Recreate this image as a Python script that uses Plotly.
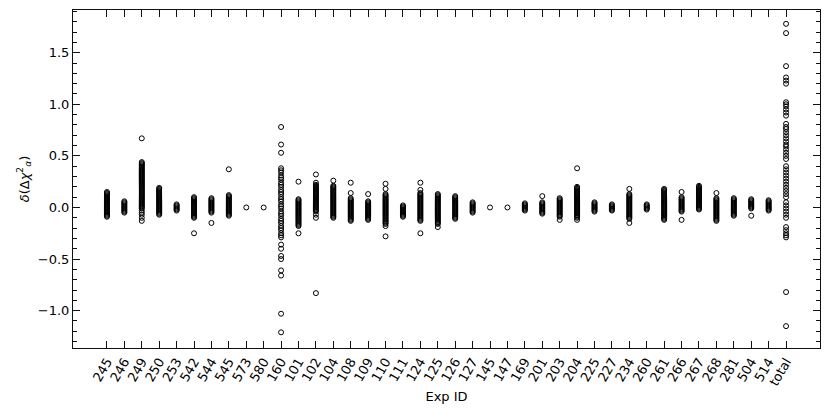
import plotly.graph_objects as go

categories = ["245", "246", "249", "250", "253", "542", "544", "545", "573", "580",
              "160", "101", "102", "104", "108", "109", "110", "111", "124", "125",
              "126", "127", "145", "147", "169", "201", "203", "204", "225", "227",
              "234", "260", "261", "266", "267", "268", "281", "504", "514", "total"]

v245 = [0.15, 0.14, 0.13, 0.12, 0.11, 0.10, 0.09, 0.08, 0.07, 0.06, 0.05, 0.04, 0.03, 0.02, 0.01, 0.00,
        -0.01, -0.02, -0.03, -0.04, -0.05, -0.06, -0.07, -0.08, -0.09]
v246 = [0.06, 0.05, 0.04, 0.03, 0.02, 0.01, 0.00, -0.01, -0.02, -0.03, -0.04, -0.05]
v249 = [0.67, 0.44, 0.43, 0.42, 0.41, 0.40, 0.39, 0.38, 0.37, 0.36, 0.35, 0.34, 0.33, 0.32, 0.31, 0.30,
        0.29, 0.28, 0.27, 0.26, 0.25, 0.24, 0.23, 0.22, 0.21, 0.20, 0.19, 0.18, 0.17, 0.16, 0.15, 0.14,
        0.13, 0.12, 0.11, 0.10, 0.09, 0.08, 0.07, 0.06, 0.05, 0.04, 0.03, 0.02, 0.01, 0.00, -0.01, -0.03,
        -0.05, -0.07, -0.10, -0.13]
v250 = [0.19, 0.18, 0.17, 0.16, 0.15, 0.14, 0.13, 0.12, 0.11, 0.10, 0.09, 0.08, 0.07, 0.06, 0.05, 0.04,
        0.03, 0.02, 0.01, 0.00, -0.01, -0.02, -0.03, -0.04, -0.05, -0.06, -0.07]
v253 = [0.03, 0.02, 0.01, 0.00, -0.01, -0.02, -0.03]
v542 = [0.10, 0.09, 0.08, 0.07, 0.06, 0.05, 0.04, 0.03, 0.02, 0.01, 0.00, -0.01, -0.02, -0.03, -0.04,
        -0.05, -0.06, -0.07, -0.08, -0.09, -0.10, -0.25]
v544 = [0.09, 0.08, 0.07, 0.06, 0.05, 0.04, 0.03, 0.02, 0.01, 0.00, -0.01, -0.02, -0.03, -0.04, -0.05, -0.15]
v545 = [0.37, 0.12, 0.11, 0.10, 0.09, 0.08, 0.07, 0.06, 0.05, 0.04, 0.03, 0.02, 0.01, 0.00, -0.01, -0.02,
        -0.03, -0.04, -0.05, -0.06, -0.07, -0.08]
v573 = [0.00]
v580 = [0.00]
v160 = [0.78, 0.61, 0.53, 0.38, 0.36, 0.34, 0.31, 0.29, 0.27, 0.24, 0.22, 0.20, 0.17, 0.15, 0.13, 0.10,
        0.08, 0.06, 0.03, 0.01, -0.01, -0.04, -0.06, -0.08, -0.11, -0.13, -0.15, -0.18, -0.20, -0.22,
        -0.25, -0.27, -0.29, -0.36, -0.40, -0.47, -0.50, -0.61, -0.66, -1.03, -1.21]
v101 = [0.25, 0.08, 0.07, 0.06, 0.05, 0.04, 0.03, 0.02, 0.01, 0.00, -0.01, -0.02, -0.03, -0.04, -0.05,
        -0.06, -0.07, -0.08, -0.09, -0.10, -0.11, -0.12, -0.13, -0.14, -0.15, -0.16, -0.17, -0.18, -0.25]
v102 = [0.32, 0.24, 0.22, 0.21, 0.20, 0.19, 0.18, 0.17, 0.16, 0.15, 0.14, 0.13, 0.12, 0.11, 0.10, 0.09,
        0.08, 0.07, 0.06, 0.05, 0.04, 0.03, 0.02, 0.01, 0.00, -0.01, -0.02, -0.03, -0.04, -0.07, -0.10, -0.83]
v104 = [0.26, 0.21, 0.20, 0.19, 0.18, 0.17, 0.16, 0.15, 0.14, 0.13, 0.12, 0.11, 0.10, 0.09, 0.08, 0.07,
        0.06, 0.05, 0.04, 0.03, 0.02, 0.01, 0.00, -0.01, -0.02, -0.03, -0.04, -0.05, -0.06, -0.07, -0.08,
        -0.09, -0.10]
v108 = [0.24, 0.14, 0.09, 0.08, 0.07, 0.06, 0.05, 0.04, 0.03, 0.02, 0.01, 0.00, -0.01, -0.02, -0.03,
        -0.04, -0.05, -0.06, -0.07, -0.08, -0.09, -0.10, -0.11, -0.12, -0.13]
v109 = [0.13, 0.06, 0.05, 0.04, 0.03, 0.02, 0.01, 0.00, -0.01, -0.02, -0.03, -0.04, -0.05, -0.06, -0.07,
        -0.08, -0.09, -0.10, -0.11, -0.12]
v110 = [0.23, 0.18, 0.13, 0.12, 0.11, 0.10, 0.09, 0.08, 0.07, 0.06, 0.05, 0.04, 0.03, 0.02, 0.01, 0.00,
        -0.01, -0.02, -0.03, -0.04, -0.05, -0.06, -0.07, -0.08, -0.09, -0.10, -0.11, -0.12, -0.13, -0.14,
        -0.15, -0.16, -0.18, -0.28]
v111 = [0.02, 0.01, 0.00, -0.01, -0.02, -0.03, -0.04, -0.05, -0.06, -0.07, -0.08, -0.09]
v124 = [0.24, 0.17, 0.14, 0.13, 0.12, 0.11, 0.10, 0.09, 0.08, 0.07, 0.06, 0.05, 0.04, 0.03, 0.02, 0.01,
        0.00, -0.01, -0.02, -0.03, -0.04, -0.05, -0.06, -0.07, -0.08, -0.09, -0.10, -0.11, -0.12, -0.13, -0.25]
v125 = [0.13, 0.12, 0.11, 0.10, 0.09, 0.08, 0.07, 0.06, 0.05, 0.04, 0.03, 0.02, 0.01, 0.00, -0.01, -0.02,
        -0.03, -0.04, -0.05, -0.06, -0.07, -0.08, -0.09, -0.10, -0.11, -0.12, -0.13, -0.14, -0.15, -0.16, -0.19]
v126 = [0.11, 0.10, 0.09, 0.08, 0.07, 0.06, 0.05, 0.04, 0.03, 0.02, 0.01, 0.00, -0.01, -0.02, -0.03,
        -0.04, -0.05, -0.06, -0.07, -0.08, -0.09, -0.10, -0.11]
v127 = [0.05, 0.04, 0.03, 0.02, 0.01, 0.00, -0.01, -0.02, -0.03, -0.04, -0.05]
v145 = [0.00]
v147 = [0.00]
v169 = [0.04, 0.03, 0.02, 0.01, 0.00, -0.01, -0.02, -0.03]
v201 = [0.11, 0.05, 0.04, 0.03, 0.02, 0.01, 0.00, -0.01, -0.02, -0.03, -0.04, -0.05, -0.06]
v203 = [0.09, 0.08, 0.07, 0.06, 0.05, 0.04, 0.03, 0.02, 0.01, 0.00, -0.01, -0.02, -0.03, -0.04, -0.05,
        -0.06, -0.07, -0.08, -0.09, -0.12]
v204 = [0.38, 0.20, 0.19, 0.18, 0.17, 0.16, 0.15, 0.14, 0.13, 0.12, 0.11, 0.10, 0.09, 0.08, 0.07, 0.06,
        0.05, 0.04, 0.03, 0.02, 0.01, 0.00, -0.01, -0.02, -0.03, -0.04, -0.05, -0.06, -0.07, -0.08, -0.09,
        -0.10, -0.12]
v225 = [0.05, 0.04, 0.03, 0.02, 0.01, 0.00, -0.01, -0.02, -0.03, -0.04]
v227 = [0.03, 0.02, 0.01, 0.00, -0.01, -0.02, -0.03]
v234 = [0.18, 0.13, 0.12, 0.11, 0.10, 0.09, 0.08, 0.07, 0.06, 0.05, 0.04, 0.03, 0.02, 0.01, 0.00, -0.01,
        -0.02, -0.03, -0.04, -0.05, -0.06, -0.07, -0.08, -0.09, -0.10, -0.11, -0.15]
v260 = [0.03, 0.02, 0.01, 0.00, -0.01, -0.02]
v261 = [0.18, 0.17, 0.16, 0.15, 0.14, 0.13, 0.12, 0.11, 0.10, 0.09, 0.08, 0.07, 0.06, 0.05, 0.04, 0.03,
        0.02, 0.01, 0.00, -0.01, -0.02, -0.03, -0.04, -0.05, -0.06, -0.07, -0.08, -0.09, -0.10, -0.11, -0.12]
v266 = [0.15, 0.10, 0.09, 0.08, 0.07, 0.06, 0.05, 0.04, 0.03, 0.02, 0.01, 0.00, -0.01, -0.02, -0.03,
        -0.04, -0.12]
v267 = [0.21, 0.20, 0.19, 0.18, 0.17, 0.16, 0.15, 0.14, 0.13, 0.12, 0.11, 0.10, 0.09, 0.08, 0.07, 0.06,
        0.05, 0.04, 0.03, 0.02, 0.01, 0.00, -0.01, -0.02]
v268 = [0.14, 0.09, 0.08, 0.07, 0.06, 0.05, 0.04, 0.03, 0.02, 0.01, 0.00, -0.01, -0.02, -0.03, -0.04,
        -0.05, -0.06, -0.07, -0.08, -0.09, -0.10, -0.11, -0.12, -0.13]
v281 = [0.09, 0.08, 0.07, 0.06, 0.05, 0.04, 0.03, 0.02, 0.01, 0.00, -0.01, -0.02, -0.03, -0.04, -0.05,
        -0.06, -0.07, -0.08]
v504 = [0.08, 0.07, 0.06, 0.05, 0.04, 0.03, 0.02, 0.01, 0.00, -0.01, -0.08]
v514 = [0.07, 0.06, 0.05, 0.04, 0.03, 0.02, 0.01, 0.00, -0.01, -0.02, -0.03]
vtotal = [1.78, 1.69, 1.37, 1.26, 1.23, 1.20, 1.02, 1.00, 0.98, 0.95, 0.92, 0.89, 0.81, 0.78, 0.76, 0.73,
          0.70, 0.67, 0.64, 0.61, 0.59, 0.56, 0.53, 0.50, 0.47, 0.40, 0.37, 0.34, 0.31, 0.28, 0.25, 0.22,
          0.19, 0.16, 0.13, 0.10, 0.05, 0.02, -0.01, -0.04, -0.07, -0.10, -0.19, -0.22, -0.25, -0.27,
          -0.29, -0.82, -1.15]

y_ticks = [-1.0, -0.5, 0.0, 0.5, 1.0, 1.5]
y_ticktext = ["\u22121.0", "\u22120.5", "0.0", "0.5", "1.0", "1.5"]

series = [v245, v246, v249, v250, v253, v542, v544, v545, v573, v580,
          v160, v101, v102, v104, v108, v109, v110, v111, v124, v125,
          v126, v127, v145, v147, v169, v201, v203, v204, v225, v227,
          v234, v260, v261, v266, v267, v268, v281, v504, v514, vtotal]

xs, ys = [], []
for cat, vals in zip(categories, series):
    xs.extend([cat] * len(vals))
    ys.extend(vals)

fig = go.Figure()
fig.add_trace(go.Scatter(
    x=xs, y=ys, mode="markers",
    marker=dict(symbol="circle-open", size=5, color="black", line=dict(width=1)),
    showlegend=False, hoverinfo="skip",
))

Y_RANGE = [-1.362, 1.914]
X_RANGE = [-1.95, 40.95]
axis_font = dict(family="DejaVu Sans", size=13, color="black")
tick_col = "#111111"

fig.update_layout(
    width=822, height=407,
    margin=dict(l=65, r=10, t=2, b=67, autoexpand=False),
    paper_bgcolor="white", plot_bgcolor="white",
    font=axis_font,
    xaxis=dict(
        type="category", categoryorder="array", categoryarray=categories,
        range=X_RANGE, automargin=False,
        ticks="inside", ticklen=7, tickwidth=1, tickcolor=tick_col,
        showline=True, linecolor=tick_col, linewidth=1, mirror="allticks",
        showgrid=False, zeroline=False, tickangle=-60,
        tickfont=axis_font,
        title=dict(text="Exp ID", font=axis_font, standoff=4),
    ),
    yaxis=dict(
        range=Y_RANGE, automargin=False,
        tickmode="array", tickvals=y_ticks, ticktext=y_ticktext,
        ticks="inside", ticklen=7, tickwidth=1, tickcolor=tick_col,
        minor=dict(tickmode="linear", dtick=0.1, tick0=0, ticks="inside", ticklen=4,
                   tickwidth=1, tickcolor=tick_col, showgrid=False),
        showline=True, linecolor=tick_col, linewidth=1, mirror="allticks",
        showgrid=False, zeroline=False,
        tickfont=axis_font,
        title=dict(text="<i>δ</i>(Δ<i>χ</i><sup>2</sup><sub><i>α</i></sub>)", font=axis_font, standoff=5),
    ),
)

fig.write_html("out.html")
